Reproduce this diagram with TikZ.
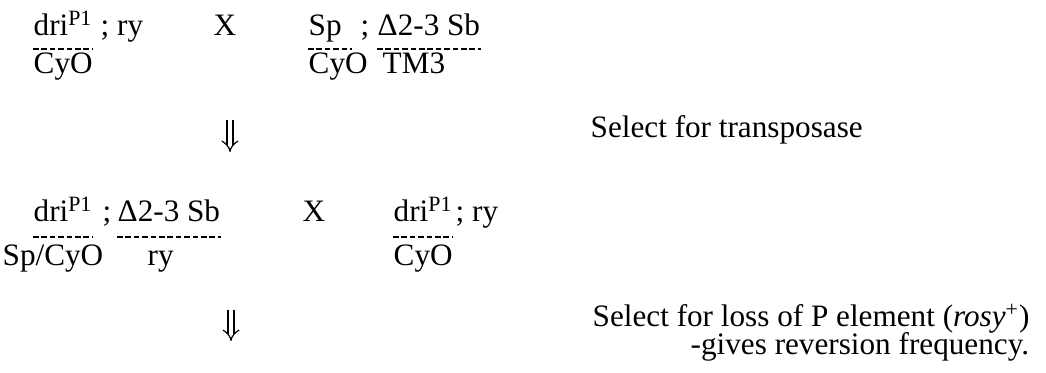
\documentclass[tikz,border=0pt]{standalone}
\usepackage{fontspec}
\setmainfont{Liberation Serif}
\usetikzlibrary{arrows.meta, positioning}
\tikzset{
  every picture/.style={line width=0.7pt},
  gene/.style={anchor=base west, inner sep=0pt, font=\fontsize{15.6}{18}\selectfont},
  note/.style={gene},
  allele/.style={dash pattern=on 2.8pt off 1.4pt, line width=0.8pt},
  cross/.style={double, double distance=2.4pt, line width=0.6pt, -{Implies}},
}

\begin{document}
\begin{tikzpicture}[x=0.5pt, y=-0.5pt]
  \useasboundingbox (0,0) rectangle (1046,373);
  % first cross
  \node[gene] (p1a) at (33,36) {dri\textsuperscript{P1}};
  \node[gene] (p1s) at (100,36) {; ry};
  \node[gene] (p1b) at (33,74) {CyO};
  \node[gene] (x1) at (213,36) {X};
  \node[gene] (p2a) at (308,36) {Sp};
  \node[gene] (p2s) at (360,36) {;};
  \node[gene] (p2c) at (377,36) {Δ2-3 Sb};
  \node[gene] (p2b) at (308,74) {CyO};
  \node[gene] (p2d) at (382,74) {TM3};
  \draw[allele] ([yshift=-6.5pt]p1a.base west) -- ([yshift=-6.5pt]p1a.base east);
  \draw[allele] ([yshift=-6.5pt]p2a.base west) -- ([yshift=-6.5pt,xshift=5pt]p2a.base east);
  \draw[allele] ([yshift=-6.5pt]p2c.base west) -- ([yshift=-6.5pt]p2c.base east);
  % transposase step
  \coordinate (t1) at (230,120);
  \coordinate (t2) at (230,152);
  \draw[cross] (t1) -- (t2);
  \node[note] (n1) at (590,138) {Select for transposase};
  % second cross
  \node[gene] (q1a) at (33,222) {dri\textsuperscript{P1}};
  \node[gene] (q1s) at (102,222) {;};
  \node[gene] (q1c) at (117,222) {Δ2-3 Sb};
  \node[gene] (q1b) at (2,266) {Sp/CyO};
  \node[gene] (q1d) at (147,266) {ry};
  \node[gene] (x2) at (302,222) {X};
  \node[gene] (q2a) at (393,222) {dri\textsuperscript{P1}};
  \node[gene] (q2s) at (455,222) {; ry};
  \node[gene] (q2b) at (393,266) {CyO};
  \draw[allele] ([yshift=-7.5pt]q1a.base west) -- ([yshift=-7.5pt]q1a.base east);
  \draw[allele] ([yshift=-7.5pt]q1c.base west) -- ([yshift=-7.5pt]q1c.base east);
  \draw[allele] ([yshift=-7.5pt]q2a.base west) -- ([yshift=-7.5pt]q2a.base east);
  % reversion step
  \coordinate (r1) at (231,310);
  \coordinate (r2) at (231,341);
  \draw[cross] (r1) -- (r2);
  \node[note] (n2) at (592,327) {Select for loss of P element (\textit{rosy}\textsuperscript{+})};
  \node[note] (n3) at (690,355) {-gives reversion frequency.};
\end{tikzpicture}
\end{document}
